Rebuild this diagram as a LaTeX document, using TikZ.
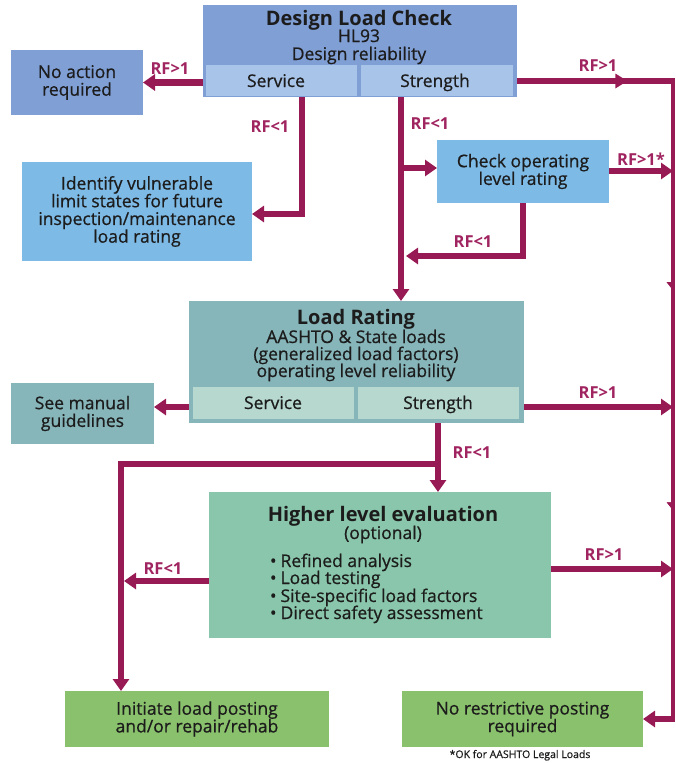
\documentclass[tikz,border=0pt]{standalone}
\usepackage{fontspec}
\setmainfont{Open Sans}
\newfontfamily\dgFace{Open Sans}[FakeBold=0.7]
\usetikzlibrary{arrows.meta,decorations.markings}

\definecolor{ink}{HTML}{1C1C1C}
\definecolor{rf}{HTML}{971A55}
\definecolor{rflbl}{HTML}{A02460}
\definecolor{dlcblue}{HTML}{7F9FD5}
\definecolor{dlccell}{HTML}{A8C4E8}
\definecolor{skyblue}{HTML}{7EBAE6}
\definecolor{teal}{HTML}{87B6BA}
\definecolor{tealcell}{HTML}{B6D8CE}
\definecolor{mint}{HTML}{89C6AB}
\definecolor{leaf}{HTML}{8AC16C}

\newcommand\dgBody{\dgFace\fontsize{17.5}{17.7}\selectfont}
\newcommand\dgTitle{\fontsize{20}{20}\selectfont\bfseries}
\newcommand\dgLbl{\fontsize{16.5}{17}\selectfont\bfseries}
\newcommand\dgNote{\dgFace\fontsize{10.5}{11}\selectfont}

\begin{document}
\begin{tikzpicture}[x=1pt,y=-1pt,
  box/.style={inner sep=0pt, outer sep=0pt, anchor=north west, align=center,
              text=ink, font=\dgBody},
  txt/.style={inner sep=0pt, outer sep=0pt, anchor=base, text=ink, font=\dgBody},
  ttl/.style={txt, font=\dgTitle},
  conn/.style={draw=rf, line width=6.5pt},
  bus/.style={draw=rf, line width=3.5pt},
  tip/.style={-{Triangle[length=12pt,width=16pt]}},
  lbl/.style={inner sep=0pt, text=rflbl, font=\dgLbl},
  midtip/.style={postaction={decorate}, decoration={markings,
      mark=at position #1 with {\arrow{Triangle[length=12pt,width=14pt]}}}},
  bustick/.style={postaction={decorate}, decoration={markings,
      mark=at position #1 with {\arrow{Triangle[length=8pt,width=12pt,right]}}}}
]
\useasboundingbox (0,0) rectangle (676,763);

% ---------- Design load check ----------
\node[box, fill=dlcblue, minimum width=314pt, minimum height=92pt] (dlc) at (203,5) {};
\node[box, fill=dlccell, minimum width=151pt, minimum height=31pt] (dlcs) at (206,65) {};
\node[box, fill=dlccell, minimum width=152pt, minimum height=31pt] (dlcg) at (361,65) {};
\node[ttl] (dlct1) at (359,25) {Design Load Check};
\node[txt] (dlct2) at (359,42) {HL93};
\node[txt] (dlct3) at (359,60) {Design reliability};
\node[txt] (dlcst) at (276,87) {Service};
\node[txt] (dlcgt) at (435,87) {Strength};

\node[box, fill=dlcblue, minimum width=132pt, minimum height=65pt] (nar) at (11,50) {No action\\required};
\node[box, fill=skyblue, minimum width=230pt, minimum height=99pt] (ivl) at (22,162)
  {Identify vulnerable\\limit states for future\\inspection/maintenance\\load rating};
\node[box, fill=skyblue, minimum width=172pt, minimum height=63pt] (col) at (437,140)
  {Check operating\\level rating};

% ---------- Load rating ----------
\node[box, fill=teal, minimum width=335pt, minimum height=122pt] (lr) at (189,301) {};
\node[box, fill=tealcell, minimum width=161pt, minimum height=32pt] (lrs) at (193,387) {};
\node[box, fill=tealcell, minimum width=161pt, minimum height=32pt] (lrg) at (358,387) {};
\node[ttl] (lrt1) at (356,324) {Load Rating};
\node[txt] (lrt2) at (356,343) {AASHTO \& State loads};
\node[txt] (lrt3) at (356,360) {(generalized load factors)};
\node[txt] (lrt4) at (356,377) {operating level reliability};
\node[txt] (lrst) at (273,409) {Service};
\node[txt] (lrgt) at (438,409) {Strength};

\node[box, fill=teal, minimum width=143pt, minimum height=61pt] (smg) at (11,383) {See manual\\guidelines};

% ---------- Higher level evaluation ----------
\node[box, fill=mint, minimum width=342pt, minimum height=146pt] (hle) at (209,492) {};
\node[ttl] (hlt1) at (383,521) {Higher level evaluation};
\node[txt] (hlt2) at (383,539) {(optional)};
\node[txt, anchor=base west] (hb1) at (270,567) {•\hspace{4pt}Refined analysis};
\node[txt, anchor=base west] (hb2) at (270,584) {•\hspace{4pt}Load testing};
\node[txt, anchor=base west] (hb3) at (270,602) {•\hspace{4pt}Site-specific load factors};
\node[txt, anchor=base west] (hb4) at (270,619) {•\hspace{4pt}Direct safety assessment};

% ---------- Outcomes ----------
\node[box, fill=leaf, minimum width=264pt, minimum height=56pt] (ilp) at (65,691)
  {Initiate load posting\\and/or repair/rehab};
\node[box, fill=leaf, minimum width=241pt, minimum height=56pt] (nrp) at (402,691)
  {No restrictive posting\\required};
\node[inner sep=0pt, anchor=base, text=ink, font=\dgNote] (note) at (520,758) {*OK for AASHTO Legal Loads};

% ---------- Junction points ----------
\coordinate (b1) at (673,81);
\coordinate (b2) at (673,719);
\coordinate (j1) at (302,214);
\coordinate (j2) at (401,168);
\coordinate (j3) at (523,256);
\coordinate (j4) at (438,464);
\coordinate (j5) at (121,464);

% ---------- Connectors ----------
% design check outcomes
\draw[conn, tip] (dlc.west |- nar.east) -- (nar.east);
\draw[conn, tip] (dlc.south -| j1) -- (j1) -- (ivl.east |- j1);
\draw[conn, tip] (dlc.south -| j2) -- (lr.north -| j2);
\draw[conn, tip] (j2) -- (col.west |- j2);
\draw[conn, tip] (col.south -| j3) -- (j3) -- ([xshift=5pt]j2 |- j3);
\draw[conn, midtip=0.7] (dlc.east |- b1) -- ([xshift=1.75pt]b1);
\draw[conn, tip] (col.east |- 0,171) -- (b1 |- 0,171);

% right-hand bus to the no-posting outcome
\draw[bus, bustick=0.33, bustick=0.675] (b1) -- (b2);
\draw[conn, tip] ([xshift=1.75pt]b2) -- (nrp.east |- b2);

% load rating outcomes
\draw[conn, tip] (lr.west |- 0,407) -- (smg.east |- 0,407);
\draw[conn, tip] (lr.east |- 0,407) -- (b1 |- 0,407);
\draw[conn, tip] (lr.south -| j4) -- (hle.north -| j4);
\draw[conn, tip] (j4) -- (j5) -- (ilp.north -| j5);

% higher level evaluation outcomes
\draw[conn, tip] (hle.west |- 0,581) -- ([xshift=3pt]j5 |- 0,581);
\draw[conn, tip] (hle.east |- 0,569) -- (b1 |- 0,569);

% ---------- Labels ----------
\node[lbl] (l1) at (170,69) {RF>1};
\node[lbl] (l2) at (270,127) {RF<1};
\node[lbl] (l3) at (430,124) {RF<1};
\node[lbl] (l4) at (598,66) {RF>1};
\node[lbl] (l5) at (641,159) {RF>1*};
\node[lbl] (l6) at (473,242) {RF<1};
\node[lbl] (l7) at (598,393) {RF>1};
\node[lbl] (l8) at (472,453) {RF<1};
\node[lbl] (l9) at (163,569) {RF<1};
\node[lbl] (l10) at (604,555) {RF>1};
\end{tikzpicture}
\end{document}
